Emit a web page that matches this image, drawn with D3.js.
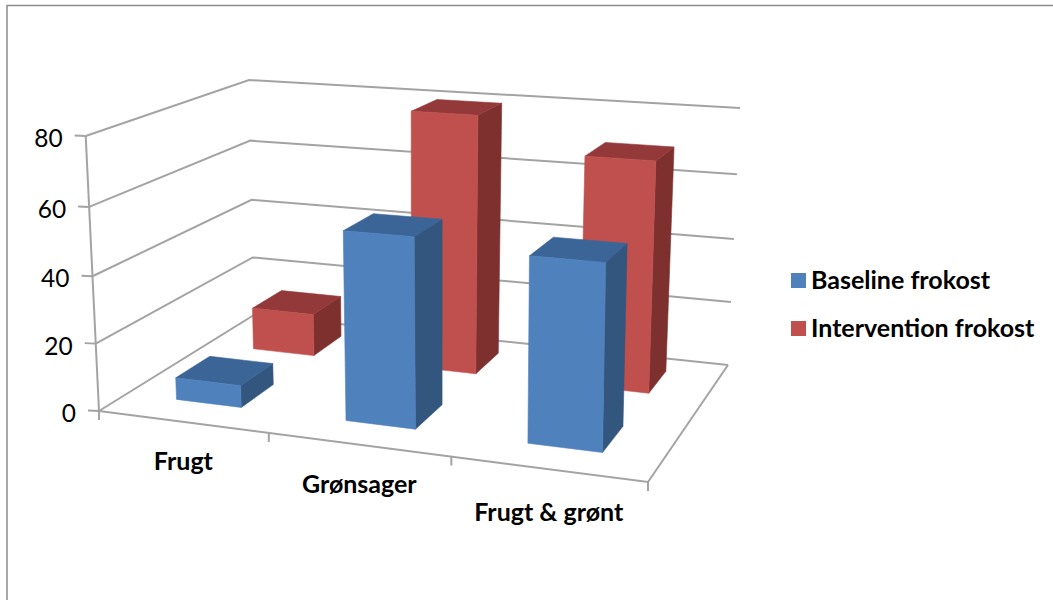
<!DOCTYPE html>
<html><head><meta charset="utf-8">
<script src="https://cdn.jsdelivr.net/npm/d3@7"></script>
<style>html,body{margin:0;padding:0;background:#fff}svg{display:block}text{font-family:Lato,"Open Sans",sans-serif;fill:#000}</style>
</head><body><svg id="c" width="1053" height="600"></svg>
<script>
const categories = ["Frugt", "Grønsager", "Frugt & grønt"];
const seriesNames = ["Baseline frokost", "Intervention frokost"];
const baseline = [6.5, 55, 52.5];
const intervention = [13.3, 79.5, 69.5];
const valueTicks = [0, 20, 40, 60, 80];

const floorQuad = [[99,411],[648,482],[728,365],[254,315]];
const topQuad   = [[85.7,136],[654,176],[740,108],[249,80]];
const labelDrop = [48, 49, 52];
const colors = [
  {front:"#4f81bd", side:"#33567f", top:"#3b6497", sw:"#4f81bd"},
  {front:"#c0504d", side:"#7e302e", top:"#93393a", sw:"#c0504d"}
];
const lineColor = "#a3a3a3";

function homography(q){
  const [[x0,y0],[x1,y1],[x2,y2],[x3,y3]] = q;
  const dx1=x1-x2, dx2=x3-x2, sx=x0-x1+x2-x3, dy1=y1-y2, dy2=y3-y2, sy=y0-y1+y2-y3;
  const det=dx1*dy2-dx2*dy1, g=(sx*dy2-dx2*sy)/det, h=(dx1*sy-sx*dy1)/det;
  const a=x1-x0+g*x1, b=x3-x0+h*x3, d=y1-y0+g*y1, e=y3-y0+h*y3;
  return (u,w)=>{const k=g*u+h*w+1; return [(a*u+b*w+x0)/k,(d*u+e*w+y0)/k];};
}
const floorH = homography(floorQuad), topH = homography(topQuad);

const xBand = d3.scaleBand().domain(categories).range([-0.001,0.999]).paddingInner(0.61).paddingOuter(0.305);
const xEdge = d3.scalePoint().domain(d3.range(categories.length+1)).range([0,1]);
const zBand = d3.scaleBand().domain(seriesNames).range([0.01,1.03]).paddingInner(0.58).paddingOuter(0.3);
const yFrac = d3.scaleLinear().domain(valueTicks).range([0,0.245,0.49,0.742,1]);

function P(u,w,v){
  const a=floorH(u,w), b=topH(u,w), t=yFrac(v);
  return [a[0]+(b[0]-a[0])*t, a[1]+(b[1]-a[1])*t];
}
const svg = d3.select("#c");
const line = d3.line();

// frame
svg.append("path").attr("d","M7,600V5.5H1053").attr("fill","none").attr("stroke","#8c8c8c").attr("stroke-width",1.5);

// walls & floor
const grid = svg.append("g").attr("fill","none").attr("stroke",lineColor).attr("stroke-width",2);
valueTicks.forEach(v=>{
  grid.append("path").attr("d",line([P(0,0,v),P(0,1,v),P(1,1,v)]));
});
grid.append("path").attr("d",line([P(0,0,0),P(1,0,0),P(1,1,0)]));
grid.append("path").attr("d",line([P(0,0,0),P(0,0,80)]));
valueTicks.forEach(v=>{
  const p=P(0,0,v);
  grid.append("path").attr("d",line([[p[0]-11,p[1]-0.5],p]));
  svg.append("text").attr("x",p[0]-23).attr("y",p[1]+11).attr("text-anchor","end")
    .attr("font-size",24.5).text(v);
});
xEdge.domain().forEach(i=>{
  const p=P(xEdge(i),0,0);
  grid.append("path").attr("d",line([p,[p[0],p[1]+9]]));
});

// bars, back series first
const rows = [{s:1,vals:intervention},{s:0,vals:baseline}];
const bars = svg.append("g");
rows.forEach(r=>{
  const c=colors[r.s], z0=zBand(seriesNames[r.s]), z1=z0+zBand.bandwidth();
  r.vals.forEach((val,i)=>{
    const u0=xBand(categories[i]), u1=u0+xBand.bandwidth();
    const g=bars.append("g");
    const poly=(pts,f)=>g.append("path").attr("d",line(pts)+"Z").attr("fill",f).attr("stroke",f).attr("stroke-width",0.6);
    poly([P(u1,z0,0),P(u1,z1,0),P(u1,z1,val),P(u1,z0,val)],c.side);
    poly([P(u0,z0,val),P(u1,z0,val),P(u1,z1,val),P(u0,z1,val)],c.top);
    poly([P(u0,z0,0),P(u1,z0,0),P(u1,z0,val),P(u0,z0,val)],c.front);
  });
});

// category labels
categories.forEach((cat,i)=>{
  const p=P(xBand(cat)+xBand.bandwidth()/2,0,0);
  svg.append("text").attr("x",p[0]+1.5).attr("y",p[1]+labelDrop[i]).attr("text-anchor","middle")
    .attr("font-size",25).attr("font-weight",700).text(cat);
});

// legend
const legendY = d3.scalePoint().domain(seriesNames).range([273,321]);
seriesNames.forEach((n,i)=>{
  svg.append("rect").attr("x",791).attr("y",legendY(n)).attr("width",15).attr("height",15).attr("fill",colors[i].sw);
  svg.append("text").attr("x",811).attr("y",legendY(n)+16).attr("font-size",25).attr("font-weight",700).text(n);
});
</script></body></html>
